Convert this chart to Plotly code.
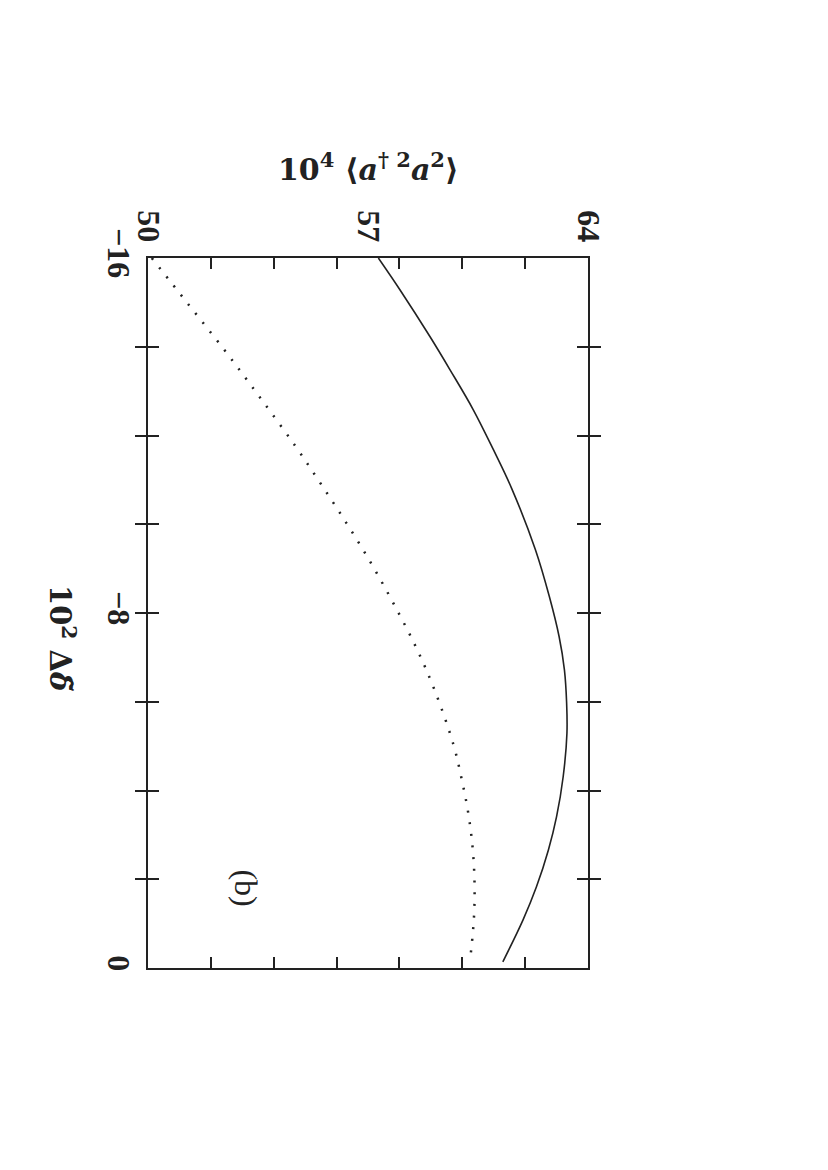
import plotly.graph_objects as go

# Solid curve: 10^2 Δδ̃ (vertical axis) vs 10^4 <a†2 a2> (horizontal axis)
solid_delta = [-16.0, -15.28, -14.23, -13.48, -12.58, -11.68, -10.81, -9.42, -8.37, -7.47, -6.72, -5.97, -5.29, -4.31, -3.41, -2.66, -1.83, -1.08, -0.14]
solid_val = [57.33, 58.02, 58.97, 59.61, 60.35, 60.99, 61.57, 62.33, 62.77, 63.08, 63.25, 63.32, 63.33, 63.21, 63.00, 62.74, 62.36, 61.93, 61.29]

dotted_delta = [-16.0, -14.96, -13.91, -12.86, -11.77, -10.91, -10.02, -9.12, -8.19, -7.24, -6.28, -5.03, -4.26, -3.49, -2.70, -1.91, -1.12, -0.32]
dotted_val = [50.12, 51.28, 52.45, 53.56, 54.68, 55.50, 56.32, 57.10, 57.83, 58.52, 59.11, 59.72, 59.98, 60.19, 60.33, 60.39, 60.37, 60.27]

val_ticks = [50, 52, 54, 56, 58, 60, 62, 64]
val_labels_pos = [50, 57, 64]
val_labels = ["50", "57", "64"]
delta_ticks = [-16, -14, -12, -10, -8, -6, -4, -2, 0]
delta_labels = ["−16", "", "", "", "−8", "", "", "", "0"]

FONT = "Liberation Serif"
TFONT = "DejaVu Serif"
INK = "#222222"

fig = go.Figure()
fig.add_trace(go.Scatter(x=solid_val, y=solid_delta, mode="lines",
                         line=dict(color=INK, width=1.6, shape="spline", smoothing=1.0),
                         showlegend=False))
fig.add_trace(go.Scatter(x=dotted_val, y=dotted_delta, mode="lines",
                         line=dict(color=INK, width=2.5, dash="2px,9.7px", shape="spline", smoothing=1.0),
                         showlegend=False))
# invisible trace to activate the top label axis
fig.add_trace(go.Scatter(x=[50], y=[-16], xaxis="x2", mode="markers",
                         marker=dict(opacity=0), showlegend=False, hoverinfo="skip"))

fig.update_layout(
    width=820, height=1162,
    margin=dict(l=140, r=240, t=250, b=202, autoexpand=False),
    paper_bgcolor="white", plot_bgcolor="white",
    xaxis=dict(range=[50, 64], tickvals=val_ticks, showticklabels=False,
               ticks="inside", ticklen=11, tickwidth=1.6, tickcolor=INK,
               showline=True, linecolor=INK, linewidth=2, mirror="allticks",
               showgrid=False, zeroline=False, automargin=False),
    xaxis2=dict(range=[50, 64], overlaying="x", side="top", tickvals=val_labels_pos,
                ticktext=val_labels, ticks="", tickangle=90, ticklabelstandoff=10,
                tickfont=dict(family=FONT, size=32, color=INK, weight="bold"),
                showgrid=False, zeroline=False, showline=False, automargin=False),
    yaxis=dict(range=[0, -16], tickvals=delta_ticks, ticktext=delta_labels,
               ticks="inside", ticklen=11, tickwidth=1.6, tickcolor=INK, tickangle=90,
               tickfont=dict(family=FONT, size=32, color=INK, weight="bold"),
               showline=True, linecolor=INK, linewidth=2, mirror="allticks",
               showgrid=False, zeroline=False, automargin=False),
)

fig.add_annotation(text="<b>10<sup>4</sup> ⟨<i>a</i><sup>† 2</sup><i>a</i><sup>2</sup>⟩</b>",
                   xref="paper", yref="paper", x=0.5, y=1.0, yanchor="middle", yshift=91,
                   showarrow=False, font=dict(family=TFONT, size=30, color=INK))
fig.add_annotation(text="<b>10<sup>2</sup> Δ<i>δ̃</i></b>", textangle=90,
                   xref="paper", yref="paper", x=0.0, xanchor="center", xshift=-86,
                   y=0.5, yanchor="middle", yshift=-25, showarrow=False,
                   font=dict(family=TFONT, size=29, color=INK))
fig.add_annotation(text="(b)", textangle=90, x=53.11, y=-1.80, showarrow=False,
                   font=dict(family=FONT, size=32, color=INK))

fig.write_html("out.html")
